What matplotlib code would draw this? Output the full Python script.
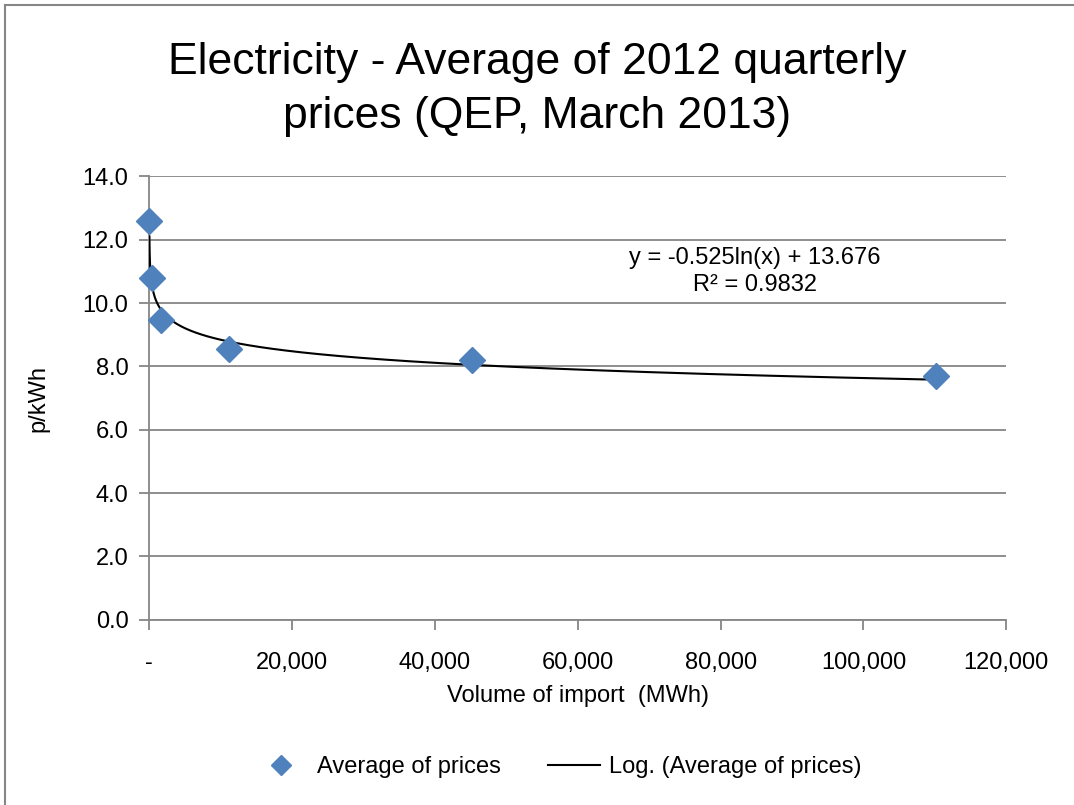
import numpy as np
import matplotlib
matplotlib.use("Agg")
import matplotlib.pyplot as plt
from matplotlib.lines import Line2D
from matplotlib.ticker import FuncFormatter, MultipleLocator

plt.rcParams['font.family'] = ['Liberation Sans', 'DejaVu Sans']

# Data
volumes = [20, 450, 1600, 11200, 45200, 110200]
prices = [12.6, 10.8, 9.45, 8.55, 8.2, 7.7]
coef_a = -0.525
coef_b = 13.676
r2 = 0.9832

title = "Electricity - Average of 2012 quarterly\nprices (QEP, March 2013)"
xlabel = "Volume of import  (MWh)"
ylabel = "p/kWh"
series_name = "Average of prices"
trend_name = "Log. (Average of prices)"

fig = plt.figure(figsize=(10.74, 8.05), dpi=100)
ax = fig.add_axes([0.139, 0.23, 0.798, 0.551])

# trendline
xt = np.geomspace(min(volumes), max(volumes), 400)
yt = coef_a * np.log(xt) + coef_b
ax.plot(xt, yt, color='black', lw=1.5, zorder=3)
ax.plot(volumes, prices, linestyle='none', marker='D', markersize=13,
        color='#4F81BD', markeredgecolor='#4F81BD', zorder=4, clip_on=False)

ax.set_xlim(0, 120000)
ax.set_ylim(0, 14)
ax.yaxis.set_major_locator(MultipleLocator(2))
ax.xaxis.set_major_locator(MultipleLocator(20000))
ax.yaxis.set_major_formatter(FuncFormatter(lambda v, p: f"{v:.1f}"))
ax.xaxis.set_major_formatter(FuncFormatter(lambda v, p: "-" if v == 0 else f"{int(v):,}"))
ax.grid(axis='y', color='#868686', lw=1.3)
ax.set_axisbelow(True)
for s in ['top', 'right']:
    ax.spines[s].set_visible(False)
for s in ['left', 'bottom']:
    ax.spines[s].set_color('#868686')
    ax.spines[s].set_linewidth(1.3)
ax.tick_params(axis='both', colors='#868686', labelcolor='black', labelsize=17, length=7, width=1.3)
ax.tick_params(axis='x', pad=16)
ax.tick_params(axis='y', pad=8)

ax.set_xlabel(xlabel, fontsize=17, labelpad=8)
ax.set_ylabel(ylabel, fontsize=17, labelpad=24)
fig.suptitle(title, fontsize=32, y=0.948, linespacing=1.42)

ax.text(0.707, 0.786, f"y = {coef_a}ln(x) + {coef_b}\nR² = {r2}", transform=ax.transAxes,
        ha='center', va='center', fontsize=17, linespacing=1.3)

handles = [Line2D([], [], linestyle='none', marker='D', markersize=10, color='#4F81BD'),
           Line2D([], [], color='black', lw=1.5)]
fig.legend(handles, [series_name, trend_name], loc='center', bbox_to_anchor=(0.52, 0.047),
           ncol=2, frameon=False, fontsize=17, handlelength=2.2, columnspacing=2.0, handletextpad=0.4)

# outer chart border (left and top visible)
fig.add_artist(Line2D([0.005, 0.005], [0, 0.994], transform=fig.transFigure, color='#868686', lw=1.5))
fig.add_artist(Line2D([0.005, 1], [0.994, 0.994], transform=fig.transFigure, color='#868686', lw=1.5))

fig.savefig("out.png", dpi=100)
